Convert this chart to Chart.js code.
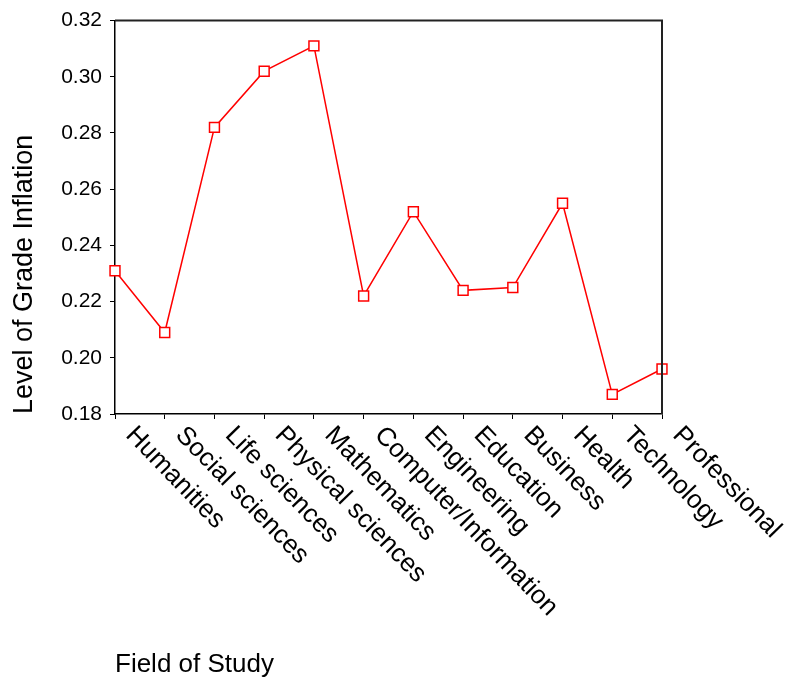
<!doctype html>
<html lang="en">
  <head>
    <meta charset="utf-8">
    <title>Level of Grade Inflation by Field of Study</title>
    <script src="https://cdn.jsdelivr.net/npm/chart.js@4.4.1/dist/chart.umd.min.js"></script>
    <style>
      html, body { margin: 0; padding: 0; background: #fff; }
      #wrap { width: 786px; height: 683px; }
    </style>
  </head>
  <body>
    <div id="wrap">
      <canvas id="gradeChart" width="786" height="683"></canvas>
    </div>

    <script>
      // data
      const fields = [
        'Humanities',
        'Social sciences',
        'Life sciences',
        'Physical sciences',
        'Mathematics',
        'Computer/Information',
        'Engineering',
        'Education',
        'Business',
        'Health',
        'Technology',
        'Professional'
      ];
      const inflation = [0.231, 0.209, 0.282, 0.302, 0.311, 0.222, 0.252, 0.224, 0.225, 0.255, 0.187, 0.196];
      const yMin = 0.18;
      const yMax = 0.32;
      const yStep = 0.02;

      const fontFamily = '"Liberation Sans", Arial, sans-serif';

      // rotated category labels hanging down-right from each tick, plus the top/right frame
      const framePlugin = {
        id: 'frameAndLabels',
        afterDraw(chart) {
          const { ctx, chartArea, scales: { x } } = chart;
          ctx.save();
          ctx.strokeStyle = '#222';
          ctx.lineWidth = 2;
          ctx.beginPath();
          ctx.moveTo(chartArea.left, chartArea.top);
          ctx.lineTo(chartArea.right, chartArea.top);
          ctx.lineTo(chartArea.right, chartArea.bottom);
          ctx.stroke();

          ctx.font = '26px ' + fontFamily;
          ctx.fillStyle = '#000';
          ctx.textAlign = 'left';
          ctx.textBaseline = 'middle';
          fields.forEach((name, i) => {
            const px = x.getPixelForTick(i);
            ctx.save();
            ctx.translate(px + 15, x.top + 17);
            ctx.rotate(46 * Math.PI / 180);
            ctx.fillText(name, 0, 0);
            ctx.restore();
          });
          ctx.restore();
        }
      };

      const chart = new Chart(document.getElementById('gradeChart'), {
        type: 'line',
        data: {
          labels: fields,
          datasets: [{
            data: inflation,
            borderColor: '#ff0000',
            borderWidth: 1.5,
            pointStyle: 'rect',
            pointRadius: 7,
            pointBorderWidth: 1.5,
            pointBorderColor: '#ff0000',
            pointBackgroundColor: '#ffffff',
            tension: 0,
            clip: false
          }]
        },
        options: {
          responsive: false,
          animation: false,
          layout: { padding: { top: 20, right: 124, bottom: 0, left: 0 } },
          plugins: {
            legend: { display: false },
            tooltip: { enabled: false }
          },
          scales: {
            x: {
              offset: false,
              grid: { drawOnChartArea: false, drawTicks: true, tickLength: 5, color: '#000' },
              border: { color: '#000', width: 1.5 },
              ticks: { display: false },
              title: {
                display: true,
                text: 'Field of Study',
                align: 'start',
                color: '#000',
                font: { family: fontFamily, size: 26 },
                padding: { top: 0, bottom: 3 }
              },
              afterFit(scale) { scale.height = 269; }
            },
            y: {
              min: yMin,
              max: yMax,
              grid: { drawOnChartArea: false, drawTicks: true, tickLength: 5, color: '#000' },
              border: { color: '#000', width: 1.5 },
              ticks: {
                stepSize: yStep,
                padding: 8,
                color: '#000',
                font: { family: fontFamily, size: 21 },
                callback: v => v.toFixed(2)
              },
              title: {
                display: true,
                text: 'Level of Grade Inflation',
                align: 'start',
                color: '#000',
                font: { family: fontFamily, size: 27 },
                padding: { top: 8, bottom: 0 }
              },
              afterFit(scale) { scale.width = 115; }
            }
          }
        },
        plugins: [framePlugin]
      });
    </script>
  </body>
</html>
